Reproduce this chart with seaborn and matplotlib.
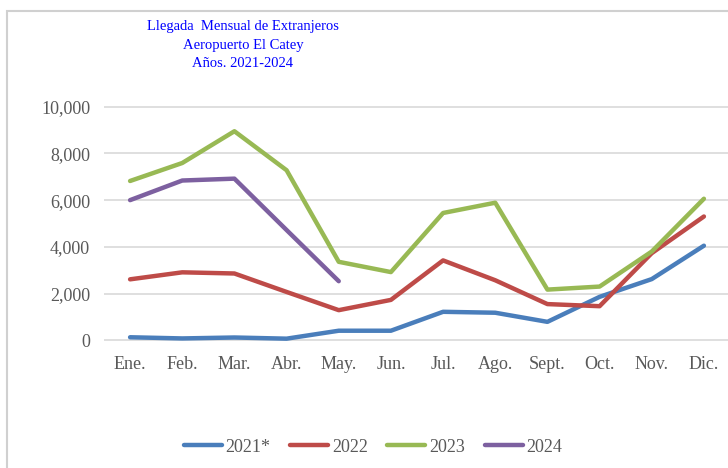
import numpy as np
import pandas as pd
import matplotlib
matplotlib.use("Agg")
import matplotlib.pyplot as plt
import seaborn as sns
from matplotlib.patches import Rectangle
from matplotlib.lines import Line2D

months = ["Ene.", "Feb.", "Mar.", "Abr.", "May.", "Jun.", "Jul.", "Ago.", "Sept.", "Oct.", "Nov.", "Dic."]
s2021 = [130, 80, 120, 70, 410, 410, 1220, 1180, 790, 1860, 2620, 4050]
s2022 = [2610, 2910, 2860, 2070, 1290, 1730, 3420, 2570, 1550, 1460, 3730, 5300]
s2023 = [6820, 7590, 8950, 7280, 3360, 2920, 5450, 5890, 2170, 2300, 3800, 6060]
s2024 = [6000, 6840, 6920, 4720, 2530, None, None, None, None, None, None, None]
series_names = ["2021*", "2022", "2023", "2024"]
colors = ["#4A7EBB", "#BE4B48", "#98B954", "#7D60A0"]
yticks = [0, 2000, 4000, 6000, 8000, 10000]

rows = []
for name, vals in zip(series_names, [s2021, s2022, s2023, s2024]):
    for i, (m, v) in enumerate(zip(months, vals)):
        rows.append({"idx": i, "month": m, "serie": name, "value": np.nan if v is None else v})
df = pd.DataFrame(rows)

sns.set_theme(style="white")
plt.rcParams["font.family"] = ["Liberation Serif", "DejaVu Serif"]

fig = plt.figure(figsize=(7.28, 4.68), dpi=100)
ax = fig.add_axes([104 / 728, 1 - 341 / 468, 626 / 728, 235 / 468])

fig.patches.append(Rectangle((7 / 728, -0.05), 1.0, 1 - 11 / 468 + 0.05, transform=fig.transFigure,
                             fill=False, edgecolor="#D0D0D0", linewidth=1.5, zorder=0))

sns.lineplot(data=df, x="idx", y="value", hue="serie", palette=colors, hue_order=series_names,
             linewidth=3.2, ax=ax, legend=False, solid_capstyle="round", sort=False)

ax.set_xlim(-0.5, 11.5)
ax.set_yticks(yticks)
ax.set_yticklabels([f"{t:,}" for t in yticks])
ax.set_xticks(range(len(months)))
ax.set_xticklabels(months)
ax.tick_params(axis="both", colors="#595959", labelsize=13, length=0)
ax.tick_params(axis="y", pad=10)
ax.tick_params(axis="x", pad=11)
ax.set_xlabel("")
ax.set_ylabel("")
ax.grid(axis="y", color="#D9D9D9", linewidth=1.2)
ax.set_axisbelow(True)
for s in ax.spines.values():
    s.set_visible(False)
ax.set_ylim(-30, 10030)

fig.text(243 / 728, 1 - 45 / 468, "Llegada  Mensual de Extranjeros\nAeropuerto El Catey\nAños. 2021-2024",
         ha="center", va="center", color="#0000FF", fontsize=10.5, linespacing=1.55)

handles = [Line2D([0], [0], color=c, linewidth=3.2, solid_capstyle="round") for c in colors]
fig.legend(handles, series_names, loc="center", bbox_to_anchor=(373 / 728, 1 - 447 / 468), ncol=4,
           frameon=False, fontsize=13, labelcolor="#595959", handlelength=2.1, handletextpad=0.2,
           columnspacing=1.1)

fig.savefig("out.png", dpi=100)
